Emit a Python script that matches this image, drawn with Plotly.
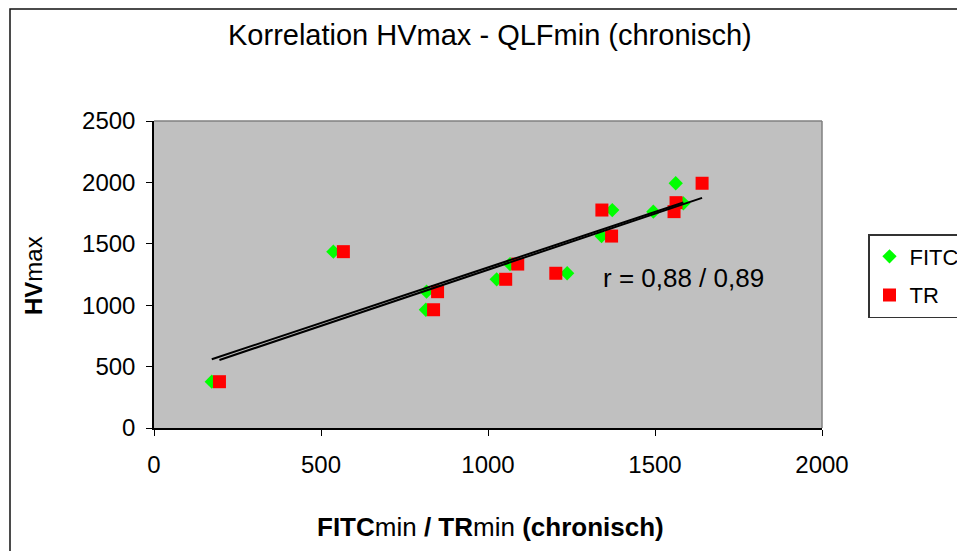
import numpy as np
import plotly.graph_objects as go

# Data
fitc_x = [173, 537, 816, 814, 1026, 1066, 1237, 1340, 1372, 1495, 1562, 1585]
fitc_y = [377, 1436, 1110, 963, 1211, 1335, 1260, 1563, 1775, 1762, 1993, 1830]
tr_x = [196, 567, 849, 837, 1053, 1089, 1203, 1370, 1341, 1557, 1641, 1563]
tr_y = [377, 1436, 1110, 963, 1211, 1335, 1260, 1563, 1775, 1762, 1993, 1835]

x_ticks = [0, 500, 1000, 1500, 2000]
y_ticks = [0, 500, 1000, 1500, 2000, 2500]

FONT = "Arial, Liberation Sans, sans-serif"

# page body has an 8px margin; lay out in screen pixels and shift
OFF = 8
W, H = 965 - OFF, 551 - OFF
L = 154 - OFF
T = 121 - OFF
R = W - (822 - OFF)
B = H - (428 - OFF)
pw, ph = W - L - R, H - T - B


def px_to_paper_x(px):
    return (px - OFF - L) / pw


def px_to_paper_y(py):
    return (H - B - (py - OFF)) / ph


fig = go.Figure()

fig.add_trace(go.Scatter(
    x=fitc_x, y=fitc_y, mode="markers", name="FITC",
    marker=dict(symbol="diamond", size=11, color="#00FF00", line=dict(width=0)),
    legendgroup="a",
))
fig.add_trace(go.Scatter(
    x=tr_x, y=tr_y, mode="markers", name="TR",
    marker=dict(symbol="square", size=13, color="#FF0000", line=dict(width=0)),
    legendgroup="b",
))

# Linear trendlines computed from the data
for xs, ys in [(fitc_x, fitc_y), (tr_x, tr_y)]:
    m, c = np.polyfit(xs, ys, 1)
    lx = np.array([min(xs), max(xs)])
    fig.add_trace(go.Scatter(
        x=lx, y=m * lx + c, mode="lines", showlegend=False,
        line=dict(color="black", width=2), hoverinfo="skip",
    ))

fig.update_layout(
    width=W, height=H,
    margin=dict(l=L, r=R, t=T, b=B, autoexpand=False),
    paper_bgcolor="white",
    plot_bgcolor="#C0C0C0",
    font=dict(family=FONT, color="black", size=24),
    showlegend=True,
    legend=dict(
        x=px_to_paper_x(868), y=px_to_paper_y(234),
        xanchor="left", yanchor="top",
        bordercolor="#333333", borderwidth=1.5,
        bgcolor="white",
        font=dict(size=22, family=FONT),
        tracegroupgap=7,
        entrywidth=95,
        itemsizing="trace",
    ),
    xaxis=dict(
        range=[0, 2000], tickvals=x_ticks, ticks="outside", ticklen=6,
        tickcolor="black", showline=True, linecolor="black", linewidth=1.5,
        showgrid=False, zeroline=False, tickfont=dict(size=24),
        ticklabelstandoff=8,
    ),
    yaxis=dict(
        range=[0, 2500], tickvals=y_ticks, ticks="outside", ticklen=6,
        tickcolor="black", showline=True, linecolor="black", linewidth=1.5,
        showgrid=False, zeroline=False, tickfont=dict(size=24),
        ticklabelstandoff=6,
    ),
)

shapes = [
    # plot area top/right border
    dict(type="line", xref="paper", yref="paper", x0=0, x1=1, y0=1, y1=1,
         line=dict(color="#808080", width=1.5)),
    dict(type="line", xref="paper", yref="paper", x0=1, x1=1, y0=0, y1=1,
         line=dict(color="#808080", width=1.5)),
    # outer chart frame
    dict(type="rect", xref="paper", yref="paper",
         x0=px_to_paper_x(10), x1=px_to_paper_x(990),
         y0=px_to_paper_y(580), y1=px_to_paper_y(9),
         line=dict(color="#111111", width=1.5), fillcolor="rgba(0,0,0,0)"),
]
fig.update_layout(shapes=shapes)

annotations = [
    dict(text="Korrelation HVmax - QLFmin (chronisch)", xref="paper", yref="paper",
         x=px_to_paper_x(490), y=px_to_paper_y(35), xanchor="center", yanchor="middle",
         showarrow=False, font=dict(size=29, family=FONT)),
    dict(text="<b>FITC</b>min <b>/ TR</b>min <b>(chronisch)</b>", xref="paper", yref="paper",
         x=px_to_paper_x(490), y=px_to_paper_y(527), xanchor="center", yanchor="middle",
         showarrow=False, font=dict(size=26, family=FONT)),
    dict(text="<b>HV</b>max", xref="paper", yref="paper",
         x=px_to_paper_x(33), y=px_to_paper_y(275), xanchor="center", yanchor="middle",
         textangle=-90, showarrow=False, font=dict(size=24, family=FONT)),
    dict(text="r = 0,88 / 0,89", xref="paper", yref="paper",
         x=px_to_paper_x(601), y=px_to_paper_y(278), xanchor="left", yanchor="middle",
         showarrow=False, font=dict(size=26, family=FONT)),
]
fig.update_layout(annotations=annotations)

fig.write_html("out.html")
